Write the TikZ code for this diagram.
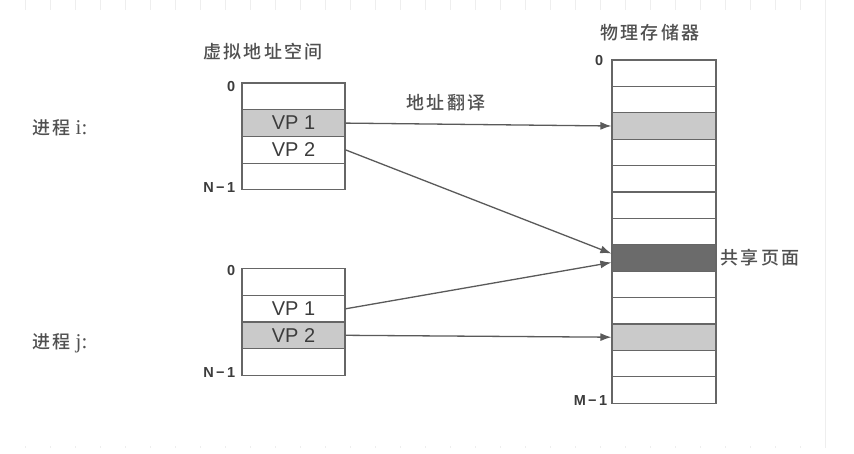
\documentclass[tikz,border=0pt]{standalone}
\usepackage{fontspec}
\setmainfont{Liberation Sans}
\newfontfamily\cjk{Noto Sans CJK SC}[LetterSpace=12, UprightFont=* Medium]
\newfontfamily\serifLatin{Liberation Serif}
\usetikzlibrary{arrows.meta}
\definecolor{lineGray}{HTML}{666666}
\definecolor{arrowGray}{HTML}{5A5A5A}
\definecolor{textGray}{HTML}{3C3C3C}
\definecolor{pageLight}{HTML}{CACACA}
\definecolor{pageDark}{HTML}{6B6B6B}
\definecolor{gridGray}{HTML}{EEEEEE}
\newcommand{\cjkLabel}[1]{{\cjk #1}}

\begin{document}
\begin{tikzpicture}[x=1pt,y=-1pt,
  page/.style={draw=lineGray, line width=1.2pt, minimum width=103pt, minimum height=26.6pt, inner sep=0pt, text=textGray, font=\fontsize{20}{20}\selectfont},
  title/.style={text=textGray!90, inner sep=0pt, font=\fontsize{18}{18}\selectfont},
  idx/.style={text=textGray, inner sep=0pt, font=\fontsize{14.5}{14.5}\selectfont\bfseries},
  map/.style={draw=arrowGray, line width=1.3pt, -{Latex[length=11pt,width=8pt]}}]
\useasboundingbox (0,0) rectangle (854,454);
% faint canvas grid round the picture
\draw[gridGray, line width=0.6pt] (2,-2) grid[step=25] (838,448);
\fill[white] (4,10) rectangle (825,446);

% virtual address space, process i
\node[page] (vi0) at (293.5,96.4) {};
\node[page, fill=pageLight] (vi1) at (293.5,123.1) {VP 1};
\node[page] (vi2) at (293.5,149.9) {VP 2};
\node[page] (vi3) at (293.5,176.6) {};
\node[idx, anchor=east] (vi0lbl) at ([xshift=-6pt,yshift=-4pt]vi0.north west) {0};
\node[idx, anchor=east] (vi3lbl) at ([xshift=-6pt,yshift=3pt]vi3.south west) {N\,−\,1};

% virtual address space, process j
\node[page] (vj0) at (293.5,282.2) {};
\node[page] (vj1) at (293.5,308.8) {VP 1};
\node[page, fill=pageLight] (vj2) at (293.5,335.3) {VP 2};
\node[page] (vj3) at (293.5,361.8) {};
\node[idx, anchor=east] (vj0lbl) at ([xshift=-6pt,yshift=-2pt]vj0.north west) {0};
\node[idx, anchor=east] (vj3lbl) at ([xshift=-6pt,yshift=3pt]vj3.south west) {N\,−\,1};

% physical memory
\foreach \k/\f in {0/white,1/white,2/pageLight,3/white,4/white,5/white,6/white,
                   7/pageDark,8/white,9/white,10/pageLight,11/white,12/white}
  \node[page, minimum width=104pt, minimum height=26.4pt, fill=\f] (m\k) at (664,73.2+26.4*\k) {};
\node[idx, anchor=east] (m0lbl) at ([xshift=-8pt,yshift=-1pt]m0.north west) {0};
\node[idx, anchor=east] (m12lbl) at ([xshift=-4pt,yshift=3pt]m12.south west) {M\,−\,1};

% titles and labels
\node[title] (vtitle) at (263,52) {\cjkLabel{虚拟地址空间}};
\node[title] (ptitle) at (650,33) {\cjkLabel{物理存储器}};
\node[title] (xlate) at (446,103) {\cjkLabel{地址翻译}};
\node[title, anchor=west] (shared) at ([xshift=4pt]m7.east) {\cjkLabel{共享页面}};
\node[title] (proci) at (60,128) {\cjkLabel{进程} {\serifLatin\fontsize{21}{21}\selectfont i:}};
\node[title] (procj) at (60,343) {\cjkLabel{进程} {\serifLatin\fontsize{21}{21}\selectfont j:}};

% address translation
\draw[map] (vi1.east) -- (m2.west);
\draw[map] (vi2.east) -- ([yshift=4.5pt]m7.west);
\draw[map] (vj1.east) -- ([yshift=-4.5pt]m7.west);
\draw[map] (vj2.east) -- (m10.west);
\end{tikzpicture}
\end{document}
